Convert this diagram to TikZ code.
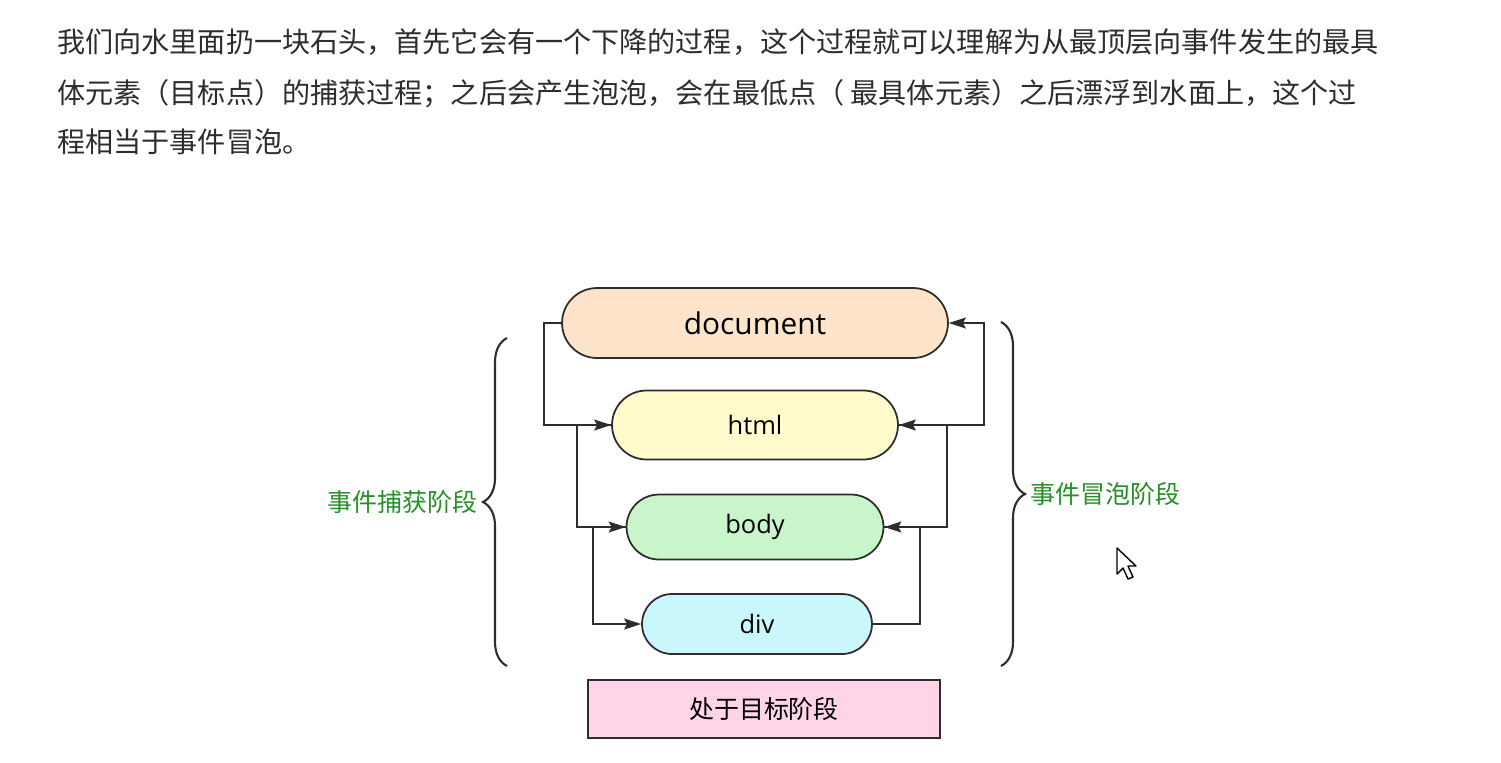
\documentclass[tikz,border=0pt]{standalone}
\usepackage{fontspec}
\setmainfont{Noto Sans CJK SC}
\newfontfamily\latinsans{Open Sans}
\usetikzlibrary{arrows.meta,shapes.misc,decorations.pathreplacing}

\definecolor{docFill}{RGB}{253,228,203}
\definecolor{htmlFill}{RGB}{255,251,204}
\definecolor{bodyFill}{RGB}{201,245,203}
\definecolor{divFill}{RGB}{201,247,251}
\definecolor{targetFill}{RGB}{255,212,232}
\definecolor{phaseGreen}{RGB}{36,145,36}
\definecolor{inkGray}{RGB}{45,45,45}

\tikzset{
  para/.style={anchor=base west, inner sep=0pt, text=inkGray, font=\fontsize{16}{20}\selectfont},
  elem/.style={rounded rectangle, draw=inkGray, line width=1pt, inner sep=0pt,
    font=\latinsans\fontsize{14.5}{17}\selectfont},
  flow/.style={-{Stealth[length=3.4mm,width=2.2mm,inset=0.6mm]}, line width=1pt, inkGray},
  curly/.style={decorate, decoration={brace, amplitude=0.48cm}, line width=1.2pt, inkGray},
  phase/.style={text=phaseGreen, inner sep=3pt, font=\fontsize{14.2}{17}\selectfont}
}

\begin{document}
\begin{tikzpicture}[x=0.02cm,y=-0.02cm]
  \useasboundingbox (0,0) rectangle (1501,762);
  % Paragraph above the diagram
  \node[para] (line1) at (57,52) {我们向水里面扔一块石头，首先它会有一个下降的过程，这个过程就可以理解为从最顶层向事件发生的最具};
  \node[para] (line2) at (57,103) {体元素（目标点）的捕获过程；之后会产生泡泡，会在最低点（ 最具体元素）之后漂浮到水面上，这个过};
  \node[para] (line3) at (57,152) {程相当于事件冒泡。};
  % Element levels
  \node[elem, fill=docFill, minimum width=7.72cm, minimum height=1.4cm,
    font=\latinsans\fontsize{17}{20}\selectfont] (doc) at (755,323) {document};
  \node[elem, fill=htmlFill, minimum width=5.72cm, minimum height=1.38cm] (html) at (755,425) {html};
  \node[elem, fill=bodyFill, minimum width=5.14cm, minimum height=1.3cm] (body) at (755,527) {body};
  \node[elem, fill=divFill, minimum width=4.6cm, minimum height=1.2cm] (div) at (757,624) {div};
  \node[draw=inkGray, line width=1pt, fill=targetFill, minimum width=7.04cm, minimum height=1.16cm,
    font=\fontsize{14.2}{17}\selectfont] (target) at (764,709) {处于目标阶段};
  % Capture: going down on the left
  \draw[flow] (doc.west) -- ++(-17,0) |- (html.west);
  \draw[flow] (html.west) -- ++(-34,0) |- (body.west);
  \draw[flow] (body.west) -- ++(-33,0) |- (div.west);
  % Bubbling: going up on the right
  \draw[flow] (div.east) -- ++(47,0) |- (body.east);
  \draw[flow] (body.east) -- ++(63,0) |- (html.east);
  \draw[flow] (html.east) -- ++(85,0) |- (doc.east);
  % Braces and phase labels
  \draw[curly] (507,666) -- (507,338) coordinate[midway, xshift=-0.48cm] (capTip);
  \draw[curly] (1001,322) -- (1001,666) coordinate[midway, xshift=0.48cm] (bubTip);
  \node[phase, anchor=east] (capLabel) at (capTip) {事件捕获阶段};
  \node[phase, anchor=west] (bubLabel) at (bubTip) {事件冒泡阶段};
  % Mouse pointer
  \draw[line width=0.8pt, fill=white, line join=round] (1117,548) -- (1117,574) -- (1123,568)
    -- (1128,579) -- (1133,577) -- (1128,566) -- (1136,566) -- cycle;
\end{tikzpicture}
\end{document}
